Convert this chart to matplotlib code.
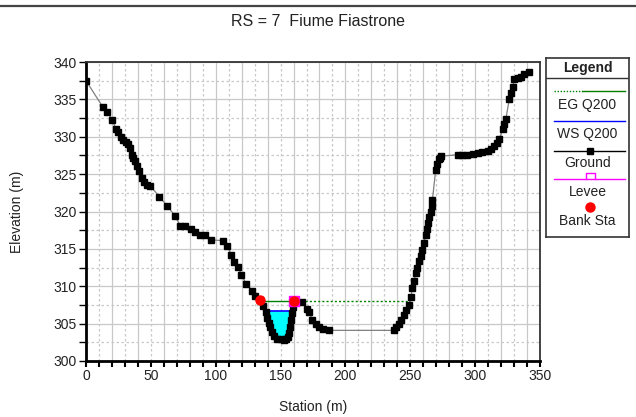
import numpy as np
import matplotlib
matplotlib.use("Agg")
import matplotlib.pyplot as plt
from matplotlib.ticker import MultipleLocator

plt.rcParams['font.family'] = ['Liberation Sans', 'DejaVu Sans']

# ---------------- data ----------------
title = "RS = 7  Fiume Fiastrone"
ground_station = [0, 12.9, 16.5, 20.3, 22.9, 24.5, 26.8, 28.5, 30.5, 32.7, 34.0, 35.3,
                  36.6, 37.9, 39.6, 41.2, 43.0, 45.0, 47.3, 49.5, 56.6, 62.8, 68.8,
                  72.6, 76.5, 81.1, 84.2, 88.0, 92.0, 96.6, 105.8, 109.0, 112.0, 114.3,
                  117.4, 119.8, 123.6, 128.3, 130.6, 134.4, 136.5, 138.4, 139.5, 140.9,
                  142.0, 143.4, 145.0, 147.3, 150.0, 152.4, 154.0, 155.5, 156.5, 157.6,
                  158.2, 158.9, 159.5, 160.7, 166.7, 170.5, 171.9, 174.4, 177.0, 179.5,
                  183.0, 187.3,
                  237.4, 239.0, 241.3, 243.0, 245.2, 247.0, 249.0, 250.5, 251.6, 253.0,
                  254.2, 255.5, 256.8, 258.0, 259.4, 260.5, 261.9, 262.8, 263.7, 264.7,
                  265.8, 266.5, 267.1, 269.6, 270.8, 272.2, 273.0, 274.0,
                  286.4, 290.0, 294.1, 298.0, 301.9, 305.0, 309.6, 312.0, 314.7, 316.5,
                  318.6, 321.2, 322.5, 323.7, 326.3, 327.5, 328.9, 330.2, 333.0, 335.3,
                  337.9, 341.5]
ground_elev = [337.5, 334.0, 333.3, 332.2, 331.1, 330.6, 330.0, 329.6, 329.3, 329.0, 328.5,
               327.6, 327.2, 326.7, 326.1, 325.4, 324.5, 323.9, 323.6, 323.4, 322.0, 320.7,
               319.4, 318.1, 318.1, 317.7, 317.2, 316.9, 316.8, 316.2, 316.1, 315.4, 314.2,
               313.3, 312.6, 311.5, 310.3, 309.4, 308.7, 308.1, 307.3, 306.6, 305.8, 305.1,
               304.5, 303.9, 303.4, 303.0, 302.9, 302.8, 303.0, 303.2, 303.8, 304.6,
               305.5, 306.4, 307.2, 308.0, 307.9, 307.0, 306.6, 305.5, 305.0, 304.6,
               304.3, 304.1,
               304.1, 304.5, 305.0, 305.5, 306.1, 306.8, 307.5, 308.6, 309.7, 310.7,
               311.8, 312.5, 313.4, 314.1, 314.8, 315.8, 316.9, 317.7, 318.5, 319.2,
               320.0, 320.8, 321.6, 325.6, 326.4, 327.0, 327.2, 327.4,
               327.6, 327.6, 327.6, 327.7, 327.8, 327.9, 328.1, 328.4, 328.8, 329.2,
               329.7, 331.0, 331.7, 332.4, 335.0, 335.8, 336.6, 337.7, 337.8, 338.0,
               338.4, 338.7]
ws_elev = 306.7
ws_range = [137.0, 159.0]
eg_elev = 308.0
eg_range = [134.4, 249.5]
bank_station = [134.4, 160.7]
bank_elev = [308.1, 308.0]
levee_station = [160.7]
levee_elev = [308.0]

xlim = (0, 350)
ylim = (300, 340)

# ---------------- figure ----------------
W, H = 636, 417
fig = plt.figure(figsize=(W / 100, H / 100), dpi=100)
ax = fig.add_axes([86 / W, 1 - 361 / H, (540 - 86) / W, (361 - 62) / H])

# grid
for y in np.arange(300, 340.1, 2.5):
    if abs(y % 5) < 1e-9:
        ax.axhline(y, color='#c8c8c8', lw=0.9, zorder=0)
    else:
        ax.axhline(y, color='#c8c8c8', lw=0.9, ls=(0, (2, 2)), zorder=0)
for x in np.arange(0, 351, 10):
    if x % 20 == 0:
        ax.axvline(x, color='#c8c8c8', lw=0.9, zorder=0)
    else:
        ax.axvline(x, color='#c8c8c8', lw=0.9, ls=(0, (2, 2)), zorder=0)

gs = np.array(ground_station)
ge = np.array(ground_elev)

# water fill
xs = np.linspace(ws_range[0], ws_range[1], 200)
gi = np.interp(xs, gs, ge)
ax.fill_between(xs, np.minimum(gi, ws_elev), ws_elev, color='#00ffff', lw=0, zorder=2)
ax.plot(ws_range, [ws_elev, ws_elev], color='#0000ff', lw=1.2, zorder=3)

# energy grade
ax.plot([eg_range[0], 166.0], [eg_elev, eg_elev], color='#008000', lw=1.0, zorder=3)
ax.plot([166.0, eg_range[1]], [eg_elev, eg_elev], color='#008000', lw=1.0,
        ls=(0, (1.5, 1.5)), zorder=3)

# ground
ax.plot(gs, ge, color='#808080', lw=0.9, zorder=4)
ax.plot(gs, ge, ls='none', marker='s', ms=4.8, mfc='k', mec='k', zorder=5)

# levee + bank stations
ax.plot(levee_station, levee_elev, ls='none', marker='s', ms=6.5, mfc='#ff00ff',
        mec='#ff00ff', zorder=6)
ax.plot(bank_station, bank_elev, ls='none', marker='o', ms=6.5, mfc='#ff0000',
        mec='#ff0000', zorder=7)

ax.set_xlim(*xlim)
ax.set_ylim(*ylim)
ax.xaxis.set_major_locator(MultipleLocator(50))
ax.xaxis.set_minor_locator(MultipleLocator(10))
ax.yaxis.set_major_locator(MultipleLocator(5))
ax.yaxis.set_minor_locator(MultipleLocator(2.5))
ax.tick_params(which='both', direction='out', length=5, width=1.0, color='k',
               labelsize=10, labelcolor='#222222', pad=1.5)
ax.tick_params(axis='x', which='both', length=4, width=1.5, pad=2)

for s in ['left', 'bottom']:
    ax.spines[s].set_linewidth(2.0)
    ax.spines[s].set_color('k')
for s in ['top', 'right']:
    ax.spines[s].set_linewidth(1.3)
    ax.spines[s].set_color('#333333')

ax.set_xlabel('Station (m)', fontsize=10, color='#222222', labelpad=12)
ax.set_ylabel('Elevation (m)', fontsize=10, color='#222222', labelpad=21)

fig.text(318 / W, 1 - 21 / H, title, ha='center', va='center', fontsize=11.5,
         color='#222222')

# top border line
fig.add_artist(plt.Line2D([0, 1], [1 - 6 / H, 1 - 6 / H], color='#444444', lw=1.6,
                          transform=fig.transFigure))

# ---------------- legend (manual box) ----------------
lx0, lx1, ly0, ly1 = 546, 629, 58, 237
lax = fig.add_axes([lx0 / W, 1 - ly1 / H, (lx1 - lx0) / W, (ly1 - ly0) / H])
lax.set_xlim(lx0, lx1)
lax.set_ylim(ly1, ly0)
lax.set_xticks([])
lax.set_yticks([])
for s in lax.spines.values():
    s.set_linewidth(1.2)
    s.set_color('#333333')
lax.axhline(77.5, color='#333333', lw=1.0)
xc = (lx0 + lx1) / 2
lax.text(xc, 68, 'Legend', ha='center', va='center', fontsize=10, fontweight='bold',
         color='#222222')
xa, xb, xm = 554, 625, 590
# EG
lax.plot([xa, 582], [91, 91], color='#008000', lw=1.0, ls=(0, (1, 1.2)))
lax.plot([582, xb], [91, 91], color='#008000', lw=1.0)
lax.text(xc, 105, 'EG Q200', ha='center', va='center', fontsize=10, color='#222222')
# WS
lax.plot([xa, xb], [121, 121], color='#0000ff', lw=1.0)
lax.text(xc, 134, 'WS Q200', ha='center', va='center', fontsize=10, color='#222222')
# Ground
lax.plot([xa, xb], [151, 151], color='k', lw=1.0)
lax.plot([xm], [151], ls='none', marker='s', ms=4.6, color='k')
lax.text(xc, 163, 'Ground', ha='center', va='center', fontsize=10, color='#222222')
# Levee
lax.plot([xa, xb], [179, 179], color='#ff00ff', lw=1.0)
lax.plot([585.5, 585.5, 594.5, 594.5], [179, 173, 173, 179], color='#ff00ff', lw=1.0)
lax.text(xc, 192, 'Levee', ha='center', va='center', fontsize=10, color='#222222')
# Bank Sta
lax.plot([xm], [207], ls='none', marker='o', ms=6.5, color='#ff0000')
lax.text(xc, 221, 'Bank Sta', ha='center', va='center', fontsize=10, color='#222222')

fig.savefig('out.png', dpi=100)
